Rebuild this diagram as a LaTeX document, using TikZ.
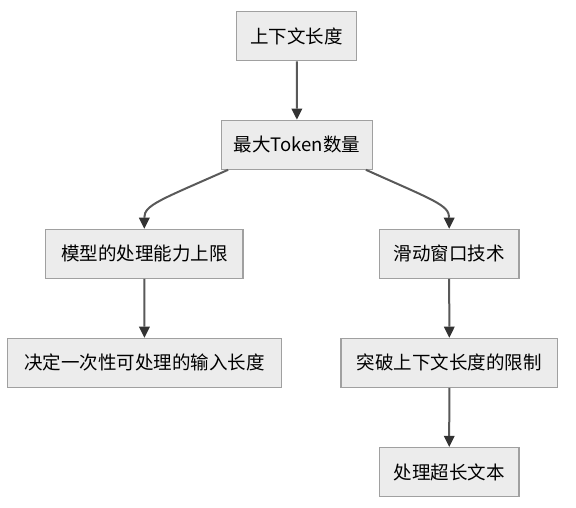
\documentclass[tikz,border=0pt]{standalone}
\usepackage{fontspec}
\setmainfont{Noto Sans CJK SC}
\usetikzlibrary{arrows.meta}
\definecolor{boxfill}{HTML}{ECECEC}
\definecolor{boxline}{HTML}{A0A0A0}
\definecolor{edgeline}{HTML}{595959}
\definecolor{tipcol}{HTML}{333333}
\begin{document}
\begin{tikzpicture}[x=1pt,y=-1pt,
  box/.style={draw=boxline,fill=boxfill,line width=1.2pt,minimum height=49pt,inner sep=0pt,
    font=\fontsize{18.5pt}{22pt}\selectfont,text=black},
  edge/.style={draw=edgeline,line width=2pt,-{Triangle[length=11pt,width=11pt,fill=tipcol,line width=0pt]}}]
\useasboundingbox (0,0) rectangle (576,507);
\node[box,minimum width=120pt] (a) at (296.7,36.2) {上下文长度};
\node[box,minimum width=150.6pt] (b) at (297,144.7) {最大Token数量};
\node[box,minimum width=197.3pt] (c) at (144.3,253.8) {模型的处理能力上限};
\node[box,minimum width=139.7pt] (d) at (449.2,253.8) {滑动窗口技术};
\node[box,minimum width=274.4pt] (e) at (144.5,362.8) {决定一次性可处理的输入长度};
\node[box,minimum width=216.7pt] (f) at (449.3,362.8) {突破上下文长度的限制};
\node[box,minimum width=139.7pt] (g) at (449.2,472) {处理超长文本};
\draw[edge] (a) -- (b);
\draw[edge] ([xshift=7pt]b.south west) .. controls (160,200) and (144.3,205) .. (c.north);
\draw[edge] ([xshift=-7pt]b.south east) .. controls (433,200) and (449.2,205) .. (d.north);
\draw[edge] (c) -- (e);
\draw[edge] (d) -- (f);
\draw[edge] (f) -- (g);
\end{tikzpicture}
\end{document}
